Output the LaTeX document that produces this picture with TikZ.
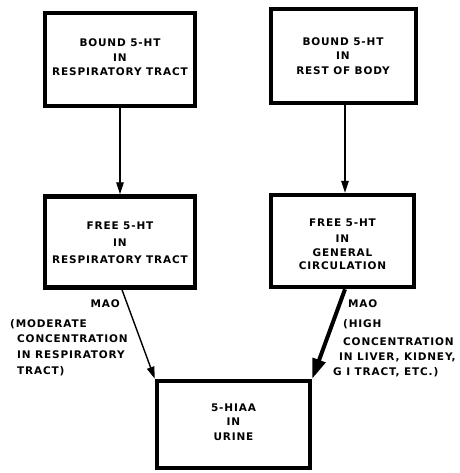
\documentclass[tikz,border=0pt]{standalone}
\usepackage{fontspec}
\newfontfamily\lbl[LetterSpace=8]{DejaVu Sans}
\usetikzlibrary{arrows.meta,calc}
\begin{document}
\begin{tikzpicture}[x=1pt,y=-1pt,
  box/.style={draw,line width=4.5pt,inner sep=0pt},
  txt/.style={font=\lbl\bfseries\fontsize{10.5}{14.5}\selectfont,align=center,inner sep=0pt},
  note/.style={font=\lbl\bfseries\fontsize{10.5}{15.7}\selectfont,inner sep=0pt},
  thin/.style={line width=1.4pt,-{Triangle[length=12pt,width=7.5pt]}},
  thick/.style={line width=4pt,-{Triangle[length=20pt,width=13pt]}}]
\useasboundingbox (0,0) rectangle (459,473);
% boxes
\node[box,minimum width=150pt,minimum height=93pt] (b1) at (120,59.5) {};
\node[box,minimum width=145pt,minimum height=94pt] (b2) at (343.5,56) {};
\node[box,minimum width=150pt,minimum height=91pt] (b3) at (120,242) {};
\node[box,minimum width=143pt,minimum height=92pt] (b4) at (342.5,241) {};
\node[box,minimum width=153pt,minimum height=87pt] (b5) at (233.5,424.5) {};
% box texts
\node[txt] (t1) at (120,57.5) {BOUND 5-HT\\IN\\RESPIRATORY TRACT};
\node[txt] (t2) at (343,56) {BOUND 5-HT\\IN\\REST OF BODY};
\node[txt,font=\lbl\bfseries\fontsize{10.5}{17}\selectfont] (t3) at (120,242.5) {FREE 5-HT\\IN\\RESPIRATORY TRACT};
\node[txt,font=\lbl\bfseries\fontsize{10.5}{13.5}\selectfont] (t4) at (342.5,244) {FREE 5-HT\\[3pt]IN\\GENERAL\\CIRCULATION};
\node[txt] (t5) at (233.5,422) {5-HIAA\\IN\\URINE};
% connectors
\draw[thin] (b1.south) -- (b3.north);
\draw[thin] ($(b2.south)+(1.5,0)$) -- ($(b4.north)+(2.5,0)$);
\draw[thin] ($(b3.south)+(2,0)$) -- (b5.north west);
\draw[thick] ($(b4.south)+(2.5,0)$) -- (b5.north east);
% notes
\node[note,anchor=east] (m1) at (120,304) {MAO};
\node[note,anchor=north west,align=left] (n1) at (10,319) {(MODERATE\\\hspace{7pt}CONCENTRATION\\\hspace{7pt}IN RESPIRATORY\\\hspace{7pt}TRACT)};
\node[note,anchor=west] (m2) at (348,304) {MAO};
\node[note,anchor=west] (h1) at (343,324) {(HIGH};
\node[note,anchor=west] (h2) at (343,342) {CONCENTRATION};
\node[note,anchor=west] (h3) at (339,357) {IN LIVER, KIDNEY,};
\node[note,anchor=west] (h4) at (333,372) {G I TRACT, ETC.)};
\end{tikzpicture}
\end{document}
